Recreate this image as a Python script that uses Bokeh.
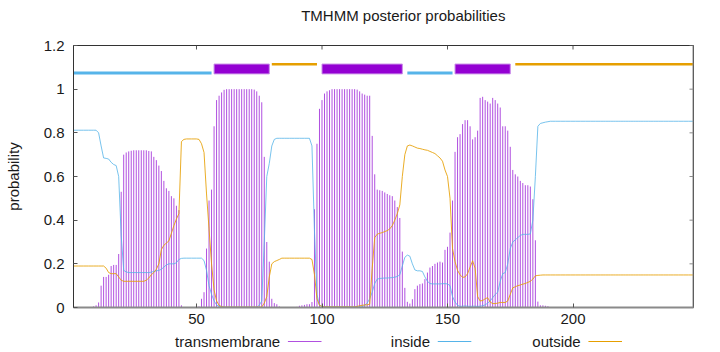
from bokeh.plotting import figure
from bokeh.models import Range1d, FixedTicker, NumeralTickFormatter, Span
from bokeh.layouts import column
from bokeh.embed import file_html
from bokeh.resources import INLINE
from bokeh.core.properties import value

FONT = "Liberation Sans"

# ---- data: posterior probabilities per residue ----
transmembrane = [
    0, 0, 0, 0, 0, 0, 0, 0, 0.005, 0.01,
    0.023, 0.1, 0.14, 0.14, 0.15, 0.19, 0.195, 0.195, 0.245, 0.53,
    0.70, 0.71, 0.715, 0.718, 0.72, 0.72, 0.72, 0.72, 0.72, 0.72,
    0.717, 0.715, 0.69, 0.675, 0.65, 0.625, 0.58, 0.546, 0.534, 0.51,
    0.50, 0.466, 0.446, 0.01, 0.002, 0.001, 0, 0, 0.002, 0.012,
    0.005, 0.04, 0.07, 0.27, 0.49, 0.54, 0.83, 0.95, 0.97, 0.985,
    0.997, 1, 1, 1, 1, 1, 1, 1, 1, 1,
    1, 1, 0.998, 0.99, 0.97, 0.94, 0.69, 0.30, 0.21, 0.04,
    0.02, 0.015, 0.005, 0.002, 0.001, 0, 0, 0, 0.001, 0.003,
    0.008, 0.01, 0.012, 0.015, 0.015, 0.025, 0.45, 0.75, 0.91, 0.95,
    0.98, 0.99, 0.995, 1, 1, 1, 1, 1, 1, 1,
    1, 1, 1, 0.998, 0.99, 0.98, 0.975, 0.97, 0.97, 0.786,
    0.61, 0.54, 0.537, 0.534, 0.527, 0.52, 0.514, 0.51, 0.49, 0.46,
    0.41, 0.256, 0.09, 0.026, 0.018, 0.038, 0.084, 0.1, 0.107, 0.11,
    0.13, 0.16, 0.183, 0.19, 0.2, 0.206, 0.21, 0.206, 0.264, 0.278,
    0.343, 0.49, 0.713, 0.78, 0.794, 0.84, 0.858, 0.858, 0.83, 0.77,
    0.78, 0.81, 0.96, 0.965, 0.95, 0.943, 0.934, 0.96, 0.95, 0.934,
    0.916, 0.83, 0.83, 0.81, 0.736, 0.63, 0.61, 0.6, 0.58, 0.57,
    0.56, 0.56, 0.554, 0.496, 0.308, 0.027, 0.01, 0.01, 0.008, 0.006,
    0, 0, 0, 0, 0, 0, 0, 0, 0, 0,
    0, 0, 0, 0, 0, 0, 0, 0, 0, 0,
    0, 0, 0, 0, 0, 0, 0, 0, 0, 0,
    0, 0, 0, 0, 0, 0, 0, 0, 0, 0,
    0, 0, 0, 0, 0, 0, 0, 0, 0, 0,
    0, 0, 0, 0, 0, 0, 0, 0,
]

inside = [
    0.812, 0.812, 0.812, 0.812, 0.812, 0.812, 0.812, 0.812, 0.812, 0.812,
    0.80, 0.74, 0.685, 0.683, 0.68, 0.665, 0.655, 0.65, 0.6, 0.33,
    0.17, 0.163, 0.16, 0.16, 0.16, 0.16, 0.16, 0.16, 0.16, 0.16,
    0.16, 0.162, 0.165, 0.168, 0.17, 0.175, 0.185, 0.195, 0.2, 0.2,
    0.2, 0.205, 0.22, 0.225, 0.226, 0.226, 0.226, 0.226, 0.226, 0.226,
    0.226, 0.226, 0.215, 0.17, 0.1, 0.06, 0.03, 0.012, 0.005, 0.003,
    0.002, 0.002, 0.002, 0.002, 0.002, 0.002, 0.002, 0.002, 0.002, 0.002,
    0.002, 0.002, 0.002, 0.002, 0.01, 0.03, 0.3, 0.6, 0.66, 0.74,
    0.77, 0.775, 0.775, 0.775, 0.775, 0.775, 0.775, 0.775, 0.775, 0.775,
    0.775, 0.775, 0.775, 0.775, 0.775, 0.74, 0.35, 0.06, 0.01, 0.005,
    0.003, 0.003, 0.003, 0.003, 0.003, 0.003, 0.003, 0.003, 0.003, 0.003,
    0.003, 0.003, 0.003, 0.003, 0.003, 0.003, 0.01, 0.02, 0.04, 0.07,
    0.11, 0.13, 0.133, 0.134, 0.135, 0.135, 0.136, 0.137, 0.139, 0.142,
    0.15, 0.19, 0.23, 0.24, 0.235, 0.2, 0.172, 0.168, 0.168, 0.165,
    0.14, 0.12, 0.11, 0.108, 0.108, 0.108, 0.108, 0.109, 0.109, 0.108,
    0.1, 0.05, 0.025, 0.01, 0.005, 0.006, 0.007, 0.006, 0.005, 0.006,
    0.006, 0.005, 0.006, 0.008, 0.012, 0.02, 0.03, 0.045, 0.06, 0.07,
    0.12, 0.155, 0.16, 0.2, 0.27, 0.3, 0.31, 0.32, 0.33, 0.335,
    0.335, 0.335, 0.337, 0.4, 0.6, 0.83, 0.843, 0.846, 0.849, 0.851,
    0.853, 0.853, 0.853, 0.853, 0.853, 0.853, 0.853, 0.853, 0.853, 0.853,
    0.853, 0.853, 0.853, 0.853, 0.853, 0.853, 0.853, 0.853, 0.853, 0.853,
    0.853, 0.853, 0.853, 0.853, 0.853, 0.853, 0.853, 0.853, 0.853, 0.853,
    0.853, 0.853, 0.853, 0.853, 0.853, 0.853, 0.853, 0.853, 0.853, 0.853,
    0.853, 0.853, 0.853, 0.853, 0.853, 0.853, 0.853, 0.853, 0.853, 0.853,
    0.853, 0.853, 0.853, 0.853, 0.853, 0.853, 0.853, 0.853,
]

outside = [
    0.19, 0.19, 0.19, 0.19, 0.19, 0.19, 0.19, 0.19, 0.19, 0.19,
    0.19, 0.19, 0.19, 0.18, 0.16, 0.155, 0.155, 0.155, 0.14, 0.125,
    0.12, 0.12, 0.12, 0.12, 0.12, 0.12, 0.12, 0.12, 0.12, 0.125,
    0.135, 0.15, 0.16, 0.175, 0.2, 0.265, 0.285, 0.295, 0.305, 0.34,
    0.375, 0.405, 0.43, 0.76, 0.77, 0.772, 0.772, 0.772, 0.772, 0.772,
    0.77, 0.75, 0.71, 0.52, 0.36, 0.2, 0.08, 0.03, 0.01, 0.004,
    0.002, 0.002, 0.002, 0.002, 0.002, 0.002, 0.002, 0.002, 0.002, 0.002,
    0.002, 0.002, 0.002, 0.002, 0.002, 0.002, 0.02, 0.05, 0.14, 0.2,
    0.21, 0.215, 0.22, 0.226, 0.226, 0.226, 0.226, 0.226, 0.226, 0.226,
    0.226, 0.226, 0.226, 0.226, 0.226, 0.22, 0.15, 0.04, 0.01, 0.005,
    0.003, 0.003, 0.003, 0.003, 0.003, 0.003, 0.003, 0.003, 0.003, 0.003,
    0.003, 0.003, 0.003, 0.005, 0.008, 0.01, 0.012, 0.012, 0.015, 0.18,
    0.32, 0.336, 0.34, 0.343, 0.348, 0.352, 0.36, 0.375, 0.4, 0.43,
    0.47, 0.6, 0.7, 0.74, 0.744, 0.74, 0.735, 0.73, 0.728, 0.725,
    0.722, 0.72, 0.715, 0.71, 0.705, 0.695, 0.685, 0.67, 0.63, 0.6,
    0.5, 0.27, 0.21, 0.17, 0.15, 0.138, 0.14, 0.155, 0.185, 0.214,
    0.18, 0.05, 0.03, 0.032, 0.04, 0.045, 0.025, 0.018, 0.018, 0.02,
    0.023, 0.023, 0.023, 0.03, 0.06, 0.09, 0.095, 0.1, 0.103, 0.107,
    0.11, 0.115, 0.12, 0.13, 0.145, 0.147, 0.148, 0.149, 0.149, 0.149,
    0.149, 0.149, 0.149, 0.149, 0.149, 0.149, 0.149, 0.149, 0.149, 0.149,
    0.149, 0.149, 0.149, 0.149, 0.149, 0.149, 0.149, 0.149, 0.149, 0.149,
    0.149, 0.149, 0.149, 0.149, 0.149, 0.149, 0.149, 0.149, 0.149, 0.149,
    0.149, 0.149, 0.149, 0.149, 0.149, 0.149, 0.149, 0.149, 0.149, 0.149,
    0.149, 0.149, 0.149, 0.149, 0.149, 0.149, 0.149, 0.149, 0.149, 0.149,
    0.149, 0.149, 0.149, 0.149, 0.149, 0.149, 0.149, 0.149,
]

# predicted topology segments (start, end residue)
tm_start = [57, 100, 153]
tm_end = [79, 132, 175]
in_start = [1, 134]
in_end = [56, 152]
out_start = [80, 177]
out_end = [98, 248]

seq_len = 248
x_ticks = [50, 100, 150, 200]
y_ticks = [0, 0.2, 0.4, 0.6, 0.8, 1, 1.2]
legend_labels = ["transmembrane", "inside", "outside"]
title_text = "TMHMM posterior probabilities"

C_TM = "#9400d3"
C_TM_IMP = "#b150e0"
C_IN = "#56b4e9"
C_OUT = "#e69f00"
TEXT = "#1a1a1a"

Y_MAX = 1.2
FRAME_W = 620
FRAME_H = 262
TICK_PX = 4

# ---------------- title strip ----------------
tfig = figure(width=720, height=30, x_range=Range1d(0, 720), y_range=Range1d(0, 30),
              output_backend="svg", toolbar_location=None, min_border=0,
              x_axis_type=None, y_axis_type=None)
tfig.outline_line_color = None
tfig.grid.visible = False
tfig.text(x=[383], y=[15], text=[title_text], text_align="center", text_baseline="middle",
          text_font=value(FONT), text_font_size="15px", text_color=TEXT)

# ---------------- main plot ----------------
p = figure(width=720, height=301, x_range=Range1d(1, seq_len), y_range=Range1d(0, Y_MAX),
           output_backend="svg", toolbar_location=None,
           min_border_left=73, min_border_right=27, min_border_top=15, min_border_bottom=24)
p.outline_line_color = "#333333"
p.outline_line_width = 1
p.grid.visible = False

xa = p.xaxis[0]
xa.ticker = FixedTicker(ticks=x_ticks)
ya = p.yaxis[0]
ya.ticker = FixedTicker(ticks=y_ticks)
ya.formatter = NumeralTickFormatter(format="0.[0]")
ya.axis_label = "probability"
ya.axis_label_text_font = FONT
ya.axis_label_text_font_size = "15px"
ya.axis_label_text_font_style = "normal"
ya.axis_label_text_color = TEXT
ya.axis_label_standoff = 19

for ax in (xa, ya):
    ax.major_label_text_font = FONT
    ax.major_label_text_font_size = "15px"
    ax.major_label_text_color = TEXT
    ax.major_tick_in = TICK_PX
    ax.major_tick_out = 0
    ax.major_tick_line_color = "#555555"
    ax.minor_tick_line_color = None
xa.major_label_standoff = 6
ya.major_label_standoff = 9
xa.axis_line_color = "#8a8a8a"
xa.axis_line_width = 2
ya.axis_line_color = "#333333"
ya.axis_line_width = 1

# right border drawn grey like the reference
p.add_layout(Span(location=seq_len, dimension="height", line_color="#8a8a8a", line_width=2))

# mirrored inward ticks on top and right edges
dx_tick = TICK_PX * (seq_len - 1) / FRAME_W
dy_tick = TICK_PX * Y_MAX / FRAME_H
p.segment(x0=x_ticks, y0=[Y_MAX] * len(x_ticks), x1=x_ticks, y1=[Y_MAX - dy_tick] * len(x_ticks),
          line_color="#555555", line_width=1)
p.segment(x0=[seq_len] * len(y_ticks), y0=y_ticks, x1=[seq_len - dx_tick] * len(y_ticks), y1=y_ticks,
          line_color="#8a8a8a", line_width=1)

pos_tm = list(range(1, len(transmembrane) + 1))
pos_in = list(range(1, len(inside) + 1))
pos_out = list(range(1, len(outside) + 1))

# impulses for transmembrane
p.segment(x0=pos_tm, y0=[0] * len(pos_tm), x1=pos_tm, y1=transmembrane,
          line_color=C_TM_IMP, line_width=1)
# inside / outside curves
p.line(pos_in, inside, line_color=C_IN, line_width=1, line_alpha=0.8)
p.line(pos_out, outside, line_color=C_OUT, line_width=1, line_alpha=0.85)

# topology bar on top
p.segment(x0=in_start, y0=[1.074] * len(in_start), x1=in_end, y1=[1.074] * len(in_start),
          line_color=C_IN, line_width=3)
p.segment(x0=out_start, y0=[1.114] * len(out_start), x1=out_end, y1=[1.114] * len(out_start),
          line_color=C_OUT, line_width=2.5)
p.quad(left=tm_start, right=tm_end, bottom=[1.07] * len(tm_start), top=[1.115] * len(tm_start),
       fill_color=C_TM, line_color="#c98ce8", line_width=1)

# ---------------- legend strip (gnuplot style: text then line sample) ----------------
leg = figure(width=720, height=21, x_range=Range1d(0, 720), y_range=Range1d(0, 21),
             output_backend="svg", toolbar_location=None, min_border=0,
             x_axis_type=None, y_axis_type=None)
leg.outline_line_color = None
leg.grid.visible = False
leg.text(x=[240, 414, 589], y=[11, 11, 11], text=legend_labels,
         text_align="right", text_baseline="middle", text_font=value(FONT),
         text_font_size="15px", text_color=TEXT)
leg.segment(x0=[249, 423, 598], y0=[11, 11, 11], x1=[288, 462, 637], y1=[11, 11, 11],
            line_color=[C_TM_IMP, C_IN, C_OUT], line_width=1)

layout = column(tfig, p, leg)
open("out.html", "w").write(file_html(layout, INLINE))
